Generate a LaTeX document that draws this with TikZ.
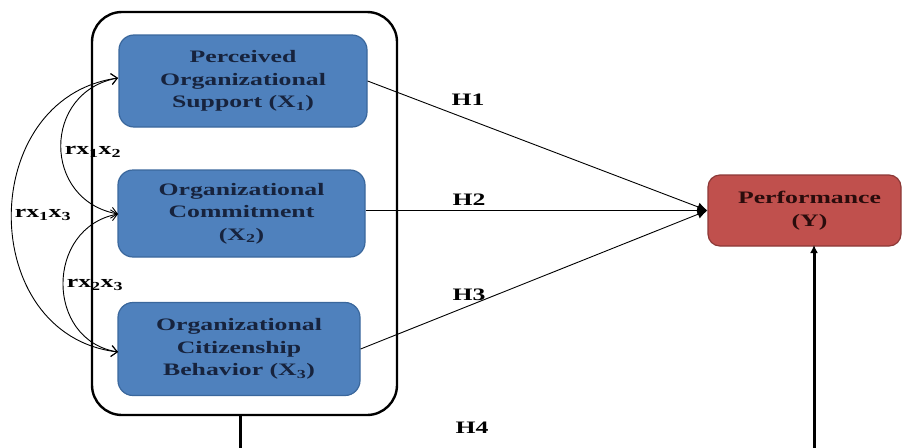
\documentclass[tikz,border=0pt]{standalone}
\usepackage{fontspec}
\setmainfont{Liberation Serif}[FakeStretch=1.47]
\usetikzlibrary{arrows.meta}
\definecolor{boxblue}{HTML}{4F81BD}
\definecolor{boxblueline}{HTML}{3A679C}
\definecolor{boxred}{HTML}{C0504D}
\definecolor{boxredline}{HTML}{8C3836}
\definecolor{navytext}{HTML}{17233D}
\definecolor{redtext}{HTML}{2A0C0C}
\begin{document}
\begin{tikzpicture}[x=1pt,y=-1pt,
  every node/.style={font=\fontsize{17.5}{22.5}\selectfont\bfseries},
  varbox/.style={draw=boxblueline, line width=1.2pt, fill=boxblue, rounded corners=15pt,
    align=center, text=navytext, inner sep=0pt},
  perfbox/.style={draw=boxredline, line width=1.2pt, fill=boxred, rounded corners=12pt,
    align=center, text=redtext, inner sep=0pt},
  grp/.style={draw=black, line width=2.4pt, rounded corners=30pt, inner sep=0pt},
  hyp/.style={draw=black, line width=0.9pt, -{Latex[length=10pt,width=9pt]}},
  corr/.style={draw=black, line width=0.9pt,
    {Straight Barb[length=6pt,width=11pt]}-{Straight Barb[length=6pt,width=11pt]}},
  thick line/.style={draw=black, line width=3pt},
  lbl/.style={text=black, inner sep=0pt}]
\useasboundingbox (0,0) rectangle (902,447);
% group frame
\node[grp, minimum width=305pt, minimum height=403pt] (grp) at (244.5,213.5) {};
% variable boxes
\node[varbox, minimum width=248pt, minimum height=92pt] (b1) at (243,81)
  {Perceived\\Organizational\\Support (X\textsubscript{1})};
\node[varbox, minimum width=247pt, minimum height=87pt] (b2) at (241.5,213.5)
  {Organizational\\Commitment\\(X\textsubscript{2})};
\node[varbox, minimum width=242pt, minimum height=93pt] (b3) at (239,349)
  {Organizational\\Citizenship\\Behavior (X\textsubscript{3})};
\node[perfbox, minimum width=193pt, minimum height=71pt] (perf) at (804.5,210.5)
  {\hspace*{10pt}Performance\\\hspace*{10pt}(Y)};
% correlation tips
\coordinate (t1) at (118,78);
\coordinate (t2) at (118,214);
\coordinate (t3) at (118,352);
\draw[corr] (t1) .. controls (42,92) and (42,200) .. (t2);
\draw[corr] (t1) .. controls (-24,98) and (-24,335) .. (t3);
\draw[corr] (t2) .. controls (45,228) and (45,340) .. (t3);
\node[lbl] (r12) at (93,152) {rx\textsubscript{1}x\textsubscript{2}};
\node[lbl] (r13) at (43,215) {rx\textsubscript{1}x\textsubscript{3}};
\node[lbl] (r23) at (95,285) {rx\textsubscript{2}x\textsubscript{3}};
% hypotheses
\draw[hyp] (b1.east) -- (perf.west);
\draw[hyp] (b2.east |- perf.west) -- (perf.west);
\draw[hyp] (b3.east) -- (perf.west);
\node[lbl] (h1) at (468,100) {H1};
\node[lbl] (h2) at (469,200) {H2};
\node[lbl] (h3) at (469,295) {H3};
\node[lbl] (h4) at (472,428) {H4};
% H4 connector parts
\coordinate (gl) at (240,450);
\coordinate (pr) at (814,450);
\coordinate (pt) at (814,245);
\draw[thick line] (grp.south -| gl) -- (gl);
\draw[thick line, -{Latex[length=8pt,width=8pt]}] (pr) -- (pt);
\end{tikzpicture}
\end{document}
